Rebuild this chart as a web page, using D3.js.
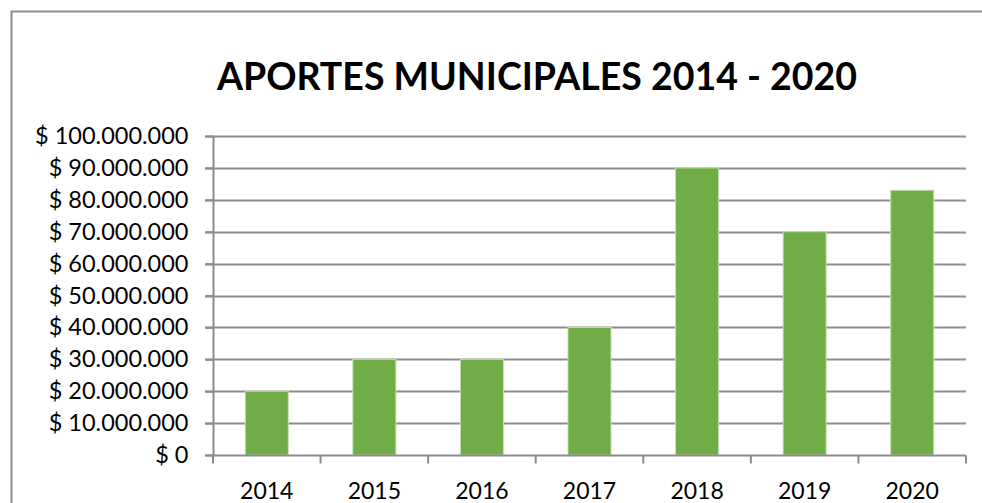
<!DOCTYPE html>
<html>
<head>
<meta charset="utf-8">
<script src="https://cdn.jsdelivr.net/npm/d3@7"></script>
<style>
  body { margin: 0; background: #fff; }
  text { font-family: Lato, "Open Sans", sans-serif; fill: #000; }
</style>
</head>
<body>
<svg id="chart" width="982" height="503"></svg>
<script>
const years = ["2014", "2015", "2016", "2017", "2018", "2019", "2020"];
const aportes = [20000000, 30000000, 30000000, 40000000, 90000000, 70000000, 83000000];
const yTicks = [0, 10000000, 20000000, 30000000, 40000000, 50000000, 60000000, 70000000, 80000000, 90000000, 100000000];

const width = 982, height = 503;
const margin = {top: 136, right: 16, bottom: 48, left: 213};

const svg = d3.select("#chart");

// outer chart frame (runs off the bottom/right of the picture)
svg.append("rect")
  .attr("x", 11.5).attr("y", 11.5)
  .attr("width", 1000).attr("height", 600)
  .attr("fill", "none")
  .attr("stroke", "#8c8c8c")
  .attr("stroke-width", 2);

const x = d3.scaleBand()
  .domain(years)
  .range([margin.left, width - margin.right])
  .paddingInner(0.6)
  .paddingOuter(0.3);

const y = d3.scaleLinear()
  .domain([0, 100000000])
  .range([height - margin.bottom, margin.top]);

const fmt = v => "$ " + d3.format(",")(v).replace(/,/g, ".");

// gridlines
svg.append("g").attr("class", "grid")
  .selectAll("line")
  .data(yTicks.filter(d => d > 0))
  .enter()
  .append("line")
  .attr("x1", margin.left - 8)
  .attr("x2", width - margin.right)
  .attr("y1", d => Math.round(y(d)) + 0.5)
  .attr("y2", d => Math.round(y(d)) + 0.5)
  .attr("stroke", "#8c8c8c")
  .attr("stroke-width", 2);

// bars
svg.append("g").attr("class", "bars")
  .selectAll("rect")
  .data(years.map((yr, i) => ({year: yr, value: aportes[i]})))
  .enter()
  .append("rect")
  .attr("x", d => x(d.year))
  .attr("y", d => y(d.value))
  .attr("width", x.bandwidth())
  .attr("height", d => y(0) - y(d.value))
  .attr("fill", "#70ad47")
  .attr("stroke", "#c5e0b4")
  .attr("stroke-width", 1);

// y axis
const yAxis = svg.append("g")
  .attr("transform", "translate(" + (margin.left + 0.5) + ",0)")
  .call(d3.axisLeft(y).tickValues(yTicks).tickFormat(fmt).tickSize(8).tickPadding(17));
yAxis.select(".domain").attr("stroke", "#8c8c8c").attr("stroke-width", 2)
  .attr("d", "M0," + y(100000000) + "V" + y(0));
yAxis.selectAll(".tick line").attr("stroke", "#8c8c8c").attr("stroke-width", 2);
yAxis.selectAll(".tick text")
  .style("font-size", "23.5px")
  .style("font-family", "Lato, 'Open Sans', sans-serif")
  .attr("fill", "#000");

// x axis with boundary ticks between categories
const xAxisG = svg.append("g")
  .attr("transform", "translate(0," + (Math.round(y(0)) + 0.5) + ")");
xAxisG.append("line")
  .attr("x1", margin.left - 8).attr("x2", width - margin.right)
  .attr("stroke", "#8c8c8c").attr("stroke-width", 2);
const step = x.step();
const bounds = d3.range(years.length + 1).map(i => margin.left + i * step);
xAxisG.selectAll("line.bnd")
  .data(bounds)
  .enter()
  .append("line")
  .attr("class", "bnd")
  .attr("x1", d => d).attr("x2", d => d)
  .attr("y1", 0).attr("y2", 8)
  .attr("stroke", "#8c8c8c").attr("stroke-width", 2);
xAxisG.selectAll("text")
  .data(years)
  .enter()
  .append("text")
  .attr("x", d => x(d) + x.bandwidth() / 2)
  .attr("y", 43)
  .attr("text-anchor", "middle")
  .style("font-size", "23px")
  .text(d => d);

// title
svg.append("text")
  .attr("x", 537)
  .attr("y", 90)
  .attr("text-anchor", "middle")
  .style("font-size", "37.5px")
  .style("font-weight", "bold")
  .text("APORTES MUNICIPALES 2014 - 2020");
</script>
</body>
</html>
